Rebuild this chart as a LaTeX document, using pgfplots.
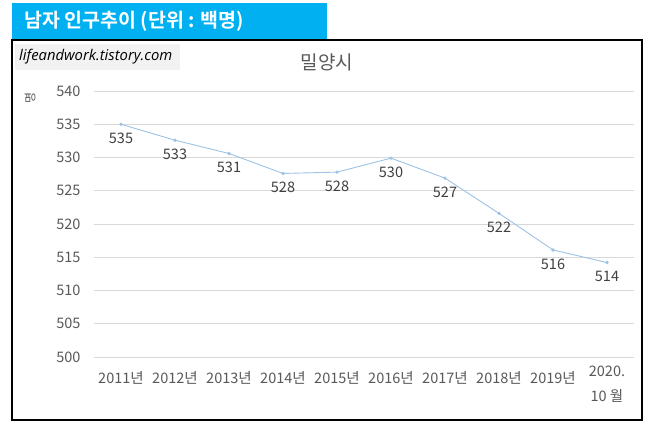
\documentclass[border=0pt]{standalone}
\usepackage{fontspec}
\setmainfont{Noto Sans CJK KR}[BoldFont={Noto Sans CJK KR Bold}]
\newfontfamily\wmfont{Open Sans}
\usepackage{pgfplots}
\pgfplotsset{compat=1.18}
\definecolor{titlebar}{HTML}{00B0F0}
\definecolor{wmbg}{HTML}{F2F2F2}
\definecolor{txtgray}{HTML}{595959}
\definecolor{lbldark}{HTML}{404040}
\definecolor{gridc}{HTML}{D9D9D9}
\definecolor{linec}{HTML}{9DC3E6}
\begin{document}
\begin{tikzpicture}
\useasboundingbox (0pt,0pt) rectangle (650pt,427pt);
\fill[titlebar] (12pt,424pt) rectangle (327pt,387pt);
\node[anchor=west, text=white, font=\bfseries\fontsize{19.5}{21}\selectfont, inner sep=0] at (24pt,406pt) {남자 인구추이 (단위 : 백명)};
\fill[white] (12pt,387pt) rectangle (642pt,7pt);
\fill[wmbg] (15pt,383pt) rectangle (180pt,357pt);
\node[anchor=west, font=\wmfont\itshape\fontsize{14.8}{16}\selectfont, inner sep=0] at (19pt,370pt) {lifeandwork.tistory.com};
\node[text=txtgray, font=\fontsize{19}{21}\selectfont] at (327pt,365pt) {밀양시};
\node[rotate=90, text=txtgray, font=\fontsize{12}{13}\selectfont] at (30pt,329pt) {명};
\begin{axis}[
  at={(94pt,70pt)}, anchor=south west,
  scale only axis, width=540pt, height=266pt,
  xmin=-0.5, xmax=9.5, ymin=500, ymax=540,
  ytick={500,505,...,540},
  xtick={0,...,8},
  xticklabels={2011년,2012년,2013년,2014년,2015년,2016년,2017년,2018년,2019년},
  extra x ticks={9},
  extra x tick labels={2020.\\10 월},
  extra x tick style={xticklabel style={yshift=6pt, align=center, font=\fontsize{14.5}{25}\selectfont}},
  axis line style={draw=none},
  major tick length=0pt,
  ymajorgrids, grid style={gridc, line width=0.8pt},
  tick label style={text=txtgray, font=\fontsize{14.5}{16}\selectfont},
  yticklabel style={xshift=-10pt},
  xticklabel style={yshift=-11pt},
  /pgf/number format/.cd, fixed, precision=0, assume math mode=true,
  /pgfplots/.cd,
  clip=false,
  nodes near coords,
  every node near coord/.append style={anchor=center, yshift=-14pt, text=lbldark, font=\fontsize{14.5}{16}\selectfont},
]
\addplot[color=linec, line width=0.9pt, mark=*, mark size=1.2pt, mark options={fill=linec, draw=linec}] coordinates {
 (0,535.0) (1,532.6) (2,530.6) (3,527.6) (4,527.8) (5,529.9) (6,526.9) (7,521.6) (8,516.1) (9,514.2)
};
\end{axis}
\draw[black, line width=1.3pt] (12pt,387pt) rectangle (642pt,7pt);
\end{tikzpicture}
\end{document}
